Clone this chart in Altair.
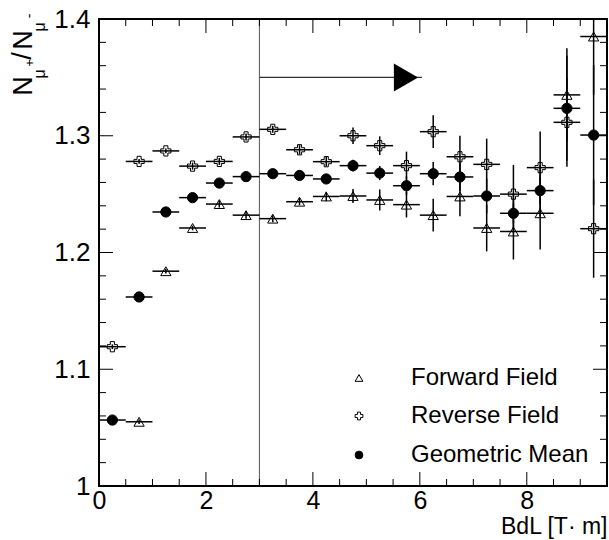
import altair as alt
import pandas as pd

# ---------------- data ----------------
bdl = [0.25, 0.75, 1.25, 1.75, 2.25, 2.75, 3.25, 3.75, 4.25, 4.75,
       5.25, 5.75, 6.25, 6.75, 7.25, 7.75, 8.25, 8.75, 9.25]
forward = [None, 1.055, 1.184, 1.221, 1.2415, 1.232, 1.229, 1.2435, 1.248, 1.2484,
           1.245, 1.241, 1.232, 1.248, 1.221, 1.218, 1.2336, 1.335, 1.385]
reverse = [1.1193, 1.278, 1.287, 1.274, 1.278, 1.299, 1.3055, 1.288, 1.2778, 1.300,
           1.2915, 1.2744, 1.3035, 1.282, 1.2755, 1.250, 1.2727, 1.3115, 1.2204]
geomean = [1.0565, 1.1619, 1.2347, 1.247, 1.2595, 1.265, 1.2675, 1.266, 1.263, 1.2744,
           1.268, 1.2572, 1.2675, 1.2647, 1.2484, 1.2336, 1.253, 1.3235, 1.3006]
err_forward = [None, 0.002, 0.002, 0.002, 0.003, 0.003, 0.003, 0.003, 0.004, 0.006,
               0.009, 0.011, 0.014, 0.017, 0.020, 0.024, 0.031, 0.040, 0.050]
err_reverse = [0.002, 0.002, 0.002, 0.003, 0.003, 0.003, 0.003, 0.004, 0.004, 0.007,
               0.008, 0.012, 0.014, 0.018, 0.022, 0.025, 0.031, 0.038, 0.042]
err_mean = [0.002, 0.002, 0.002, 0.002, 0.002, 0.002, 0.002, 0.003, 0.003, 0.005,
            0.006, 0.008, 0.010, 0.012, 0.015, 0.017, 0.022, 0.045, 0.060]
bin_half_width = 0.25
series_names = ["Forward Field", "Reverse Field", "Geometric Mean"]
series_shapes = ["triangle-up", "cross", "circle"]
series_fills = ["white", "white", "black"]

cut_x = 3.0
arrow_end_x = 6.04
arrow_y = 1.35

x_domain = [0, 9.5]
y_domain = [1.0, 1.4]
x_major = [0, 2, 4, 6, 8]
x_minor = [0.5, 1.0, 1.5, 2.5, 3.0, 3.5, 4.5, 5.0, 5.5, 6.5, 7.0, 7.5, 8.5, 9.0]
y_major = [1.0, 1.1, 1.2, 1.3, 1.4]
y_minor = [1.02, 1.04, 1.06, 1.08, 1.12, 1.14, 1.16, 1.18, 1.22, 1.24, 1.26, 1.28,
           1.32, 1.34, 1.36, 1.38]
x_title = "BdL [T\u00b7 m]"

# ---------------- table ----------------
rows = []
for name, vals, errs in zip(series_names, [forward, reverse, geomean],
                            [err_forward, err_reverse, err_mean]):
    for xv, yv, ev in zip(bdl, vals, errs):
        if yv is None:
            continue
        rows.append({"series": name, "x": xv, "y": yv, "err": ev})
df = pd.DataFrame(rows)

W, H = 508, 467
PAD_L, PAD_T = 99, 19
FONT = "Liberation Sans, Arial, Helvetica, sans-serif"
xs = alt.Scale(domain=x_domain, nice=False, zero=False)
ys = alt.Scale(domain=y_domain, nice=False, zero=False)

X_AX = alt.Axis(values=x_major, ticks=False, tickSize=0, domain=False, grid=False,
                labelFont=FONT, labelFontSize=25, labelColor="black",
                labelPadding=2, labelFlush=False, format="d",
                titleFont=FONT, titleFontSize=23, titleFontWeight="normal",
                titleColor="black", titleAnchor="end", titlePadding=2)
Y_AX = alt.Axis(values=y_major, ticks=False, tickSize=0, domain=False, grid=False,
                labelFont=FONT, labelFontSize=26, labelColor="black",
                labelPadding=9, labelFlush=False, format=".1~f")


def X(field):
    return alt.X(field, scale=xs, axis=X_AX, title=x_title)


def Y(field):
    return alt.Y(field, scale=ys, axis=Y_AX, title="")


base = alt.Chart(df).transform_calculate(
    xlo=f"datum.x - {bin_half_width}",
    xhi=f"datum.x + {bin_half_width}",
    ylo="datum.y - datum.err",
    yhi="datum.y + datum.err",
)

markers = base.mark_point(filled=True, stroke="black", strokeWidth=1, opacity=1, size=105).encode(
    x=X("x:Q"),
    y=Y("y:Q"),
    shape=alt.Shape("series:N", scale=alt.Scale(domain=series_names, range=series_shapes),
                    legend=None),
    fill=alt.Fill("series:N", scale=alt.Scale(domain=series_names, range=series_fills),
                  legend=None),
)

hbars = base.mark_rule(color="black", strokeWidth=1.5, clip=True).encode(
    x=X("xlo:Q"), x2="xhi:Q", y=Y("y:Q"))
vbars = base.mark_rule(color="black", strokeWidth=1.5, clip=True).encode(
    x=X("x:Q"), y=Y("ylo:Q"), y2="yhi:Q")

# cut line and arrow
cut = alt.Chart(pd.DataFrame({"x": [cut_x]})).mark_rule(color="#555555", strokeWidth=1).encode(
    x=X("x:Q"))
arrow_df = pd.DataFrame({"x0": [cut_x], "x1": [arrow_end_x], "y": [arrow_y]})
arrow_line = alt.Chart(arrow_df).mark_rule(color="#333333", strokeWidth=1.2).encode(
    x=X("x0:Q"), x2="x1:Q", y=Y("y:Q"))
arrow_head = alt.Chart(arrow_df).mark_point(
    shape="triangle-right", filled=True, color="black", opacity=1, size=784, xOffset=-16
).encode(x=X("x1:Q"), y=Y("y:Q"))


# ROOT-style inward ticks on all four sides
def yticks(vals, length):
    d = pd.DataFrame({"v": vals})
    left = alt.Chart(d).mark_rule(color="black", strokeWidth=1).encode(
        y=Y("v:Q"), x=alt.value(0), x2=alt.value(length))
    right = alt.Chart(d).mark_rule(color="black", strokeWidth=1).encode(
        y=Y("v:Q"), x=alt.value(W), x2=alt.value(W - length))
    return [left, right]


def xticks(vals, length):
    d = pd.DataFrame({"v": vals})
    bottom = alt.Chart(d).mark_rule(color="black", strokeWidth=1).encode(
        x=X("v:Q"), y=alt.value(H), y2=alt.value(H - length))
    top = alt.Chart(d).mark_rule(color="black", strokeWidth=1).encode(
        x=X("v:Q"), y=alt.value(0), y2=alt.value(length))
    return [bottom, top]


tick_layers = yticks(y_major, 14) + yticks(y_minor, 7) + xticks(x_major, 14) + xticks(x_minor, 7)


# y title  N_{mu+}/N_{mu-}  (rotated, built from pieces)
def piece(txt, sx, sy, size):
    return alt.Chart(pd.DataFrame({"t": [txt]})).mark_text(
        angle=270, align="center", baseline="middle", font=FONT, fontSize=size, color="black"
    ).encode(text="t:N", x=alt.value(sx - PAD_L), y=alt.value(sy - PAD_T))


title_layers = [
    piece("N", 24, 86, 27),
    piece("\u03bc", 40, 74, 16),
    piece("+", 30, 63, 13),
    piece("/", 23, 56, 27),
    piece("N", 24, 40, 27),
    piece("\u03bc", 40, 27, 16),
    piece("-", 30, 16, 14),
]

# legend (ROOT TLegend style): symbol column + label column
legend_rows_y = [378, 416, 455]
legend_layers = []
for name, shp, fll, ly in zip(series_names, series_shapes, series_fills, legend_rows_y):
    ldf = pd.DataFrame({"label": [name]})
    legend_layers.append(
        alt.Chart(ldf).mark_point(shape=shp, filled=True, fill=fll, stroke="black",
                                  strokeWidth=1, opacity=1, size=60)
        .encode(x=alt.value(359 - PAD_L), y=alt.value(ly - PAD_T)))
    legend_layers.append(
        alt.Chart(ldf).mark_text(align="left", baseline="middle", font=FONT, fontSize=24,
                                 color="black")
        .encode(text="label:N", x=alt.value(411 - PAD_L), y=alt.value(ly - PAD_T)))

chart = alt.layer(
    markers, cut, arrow_line, arrow_head, hbars, vbars, *tick_layers, *title_layers,
    *legend_layers
).properties(
    width=W, height=H,
    autosize=alt.AutoSizeParams(type="none"),
    padding={"left": PAD_L, "top": PAD_T, "right": 2, "bottom": 54},
    background="white",
).configure_view(stroke="black", strokeWidth=2)

chart.save("out.html", embed_options={"renderer": "svg", "actions": False})
